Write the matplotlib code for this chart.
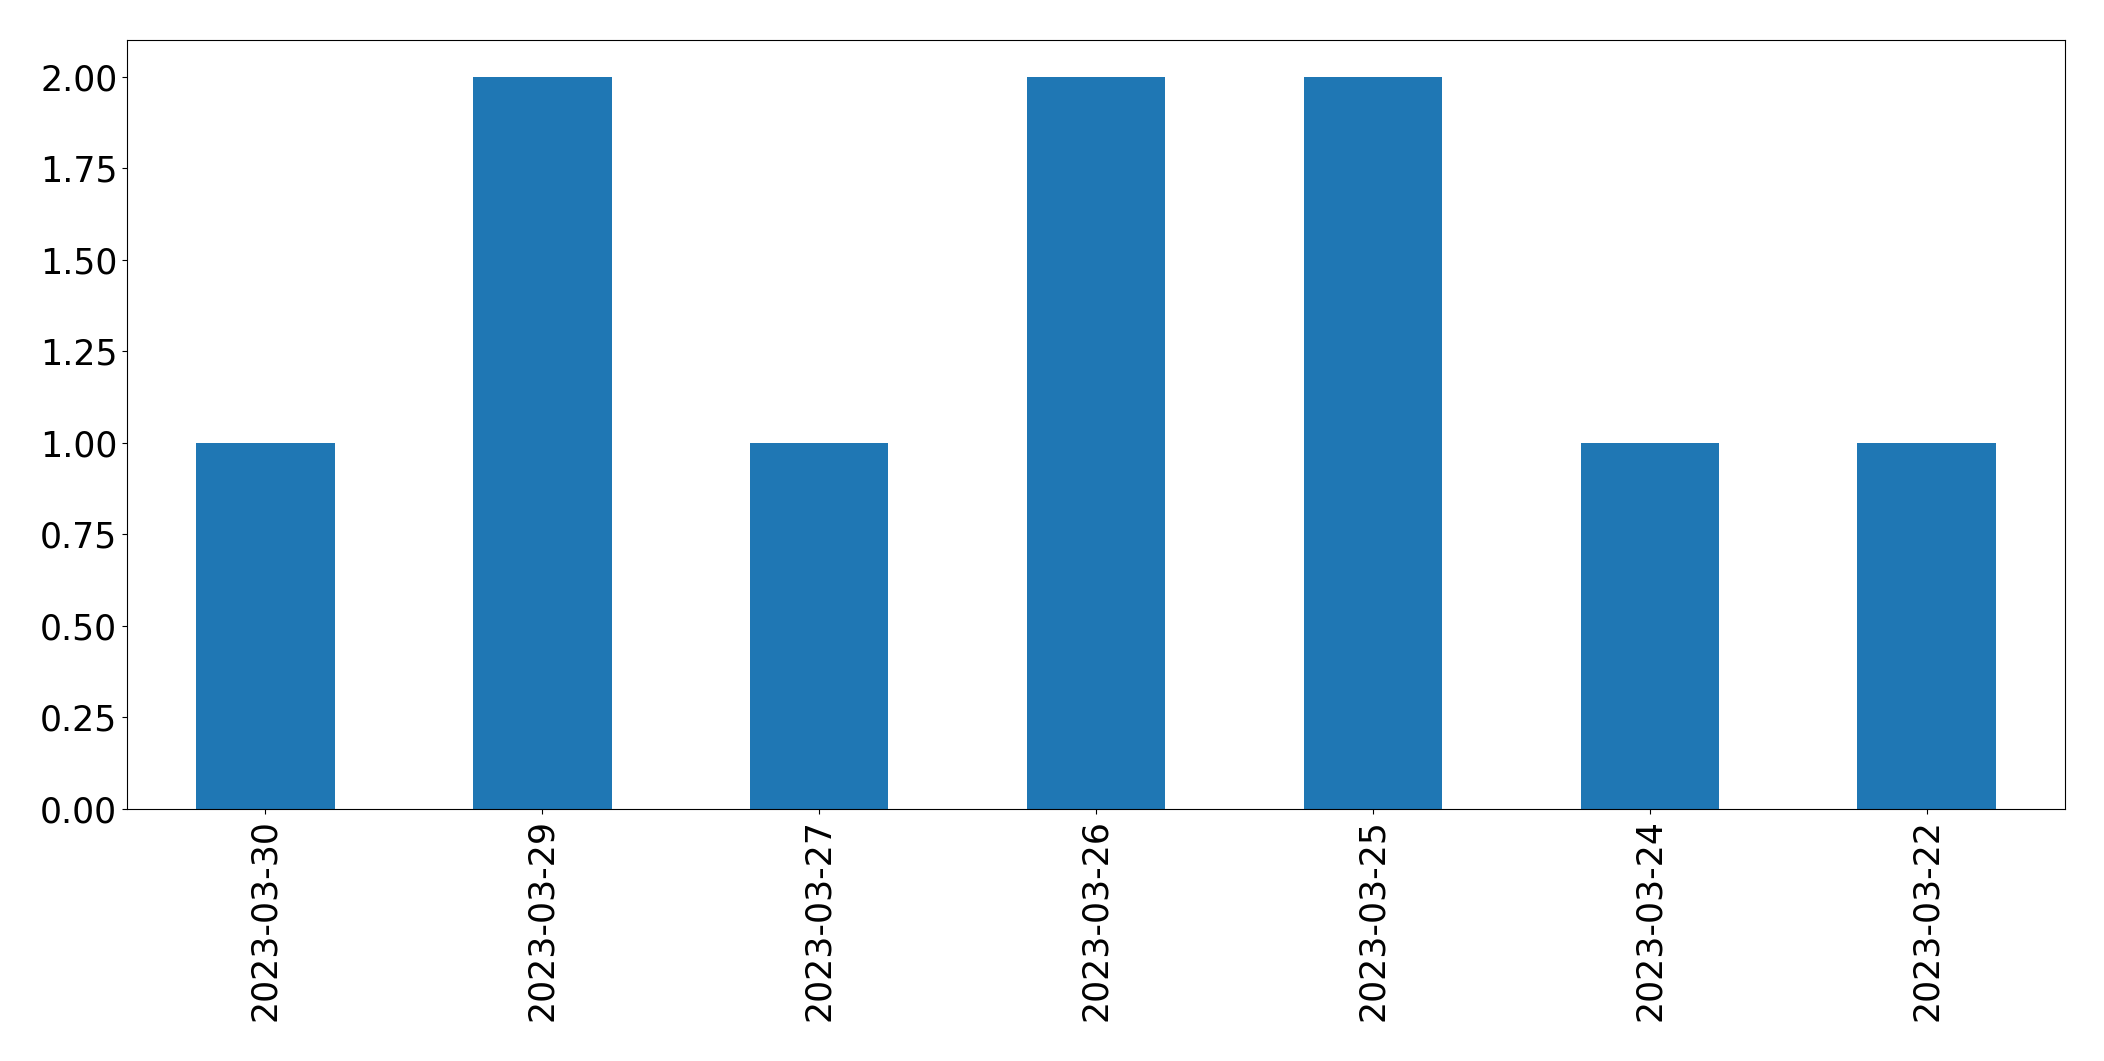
import matplotlib
matplotlib.use("Agg")
import matplotlib.pyplot as plt
import numpy as np

# 数据
dates = ["2023-03-30", "2023-03-29", "2023-03-27", "2023-03-26",
         "2023-03-25", "2023-03-24", "2023-03-22"]
counts = [1, 2, 1, 2, 2, 1, 1]

fig = plt.figure(figsize=(21.04, 10.61), dpi=100)
ax = fig.add_axes([127 / 2104, 1 - 809 / 1061, (2065 - 127) / 2104, (809 - 40) / 1061])

x = np.arange(len(dates))
ax.bar(x, counts, width=0.5, color="#1f77b4")
ax.set_xlim(-0.5, len(dates) - 0.5)
ax.set_ylim(0, 2.1)
ax.set_xticks(x)
ax.set_xticklabels(dates, rotation=90)
ax.set_yticks(np.arange(0, 2.01, 0.25))
ax.set_yticklabels([f"{v:.2f}" for v in np.arange(0, 2.01, 0.25)])
ax.tick_params(labelsize=25)

fig.savefig("out.png", dpi=100)
